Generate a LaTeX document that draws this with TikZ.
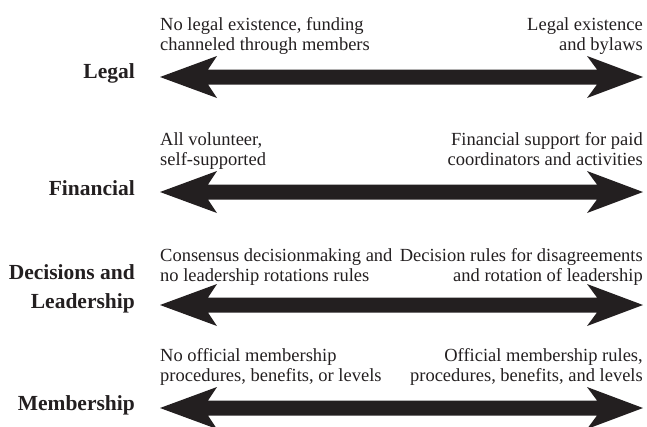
\documentclass[tikz,border=0pt]{standalone}
\usepackage{fontspec}
\setmainfont{Liberation Serif}
\usetikzlibrary{calc}
\definecolor{ink}{HTML}{231F20}
\begin{document}
\begin{tikzpicture}[x=1pt,y=-1pt,
  lab/.style={inner sep=0pt,text depth=0pt,align=right,anchor=south east,
    font=\fontsize{21.5}{29}\selectfont\bfseries,text=ink},
  lefttxt/.style={inner sep=0pt,text depth=0pt,align=left,anchor=south west,
    font=\fontsize{18.5}{20.5}\selectfont,text=ink},
  righttxt/.style={inner sep=0pt,text depth=0pt,align=right,anchor=south east,
    font=\fontsize{18.5}{20.5}\selectfont,text=ink},
  bigarrow/.style={fill=ink}]
\useasboundingbox (0,0) rectangle (647,426);
% double-headed arrows
\foreach \y/\n in {77/a,192/b,305/c,408/d}{
  \coordinate (\n l) at (160,\y);
  \coordinate (\n r) at (643,\y);
  \fill[bigarrow] (\n l) -- ++(57,-21) -- ++(-9,13.5) -- ($(\n r)+(-46,-7.5)$)
    -- ++(-10,-13.5) -- (\n r) -- ++(-56,21) -- ++(10,-13.5)
    -- ($(\n l)+(48,7.5)$) -- ++(9,13.5) -- cycle;
}
% labels
\node[lab] (legal) at (135,79) {Legal};
\node[lab] (fin) at (135,196) {Financial};
\node[lab] (dec) at (135,309) {Decisions and\\Leadership};
\node[lab] (mem) at (135,411) {Membership};
% left descriptions
\node[lefttxt] (l1) at (160,51) {No legal existence, funding\\channeled through members};
\node[lefttxt] (l2) at (160,166) {All volunteer,\\self-supported};
\node[lefttxt] (l3) at (160,282) {Consensus decisionmaking and\\no leadership rotations rules};
\node[lefttxt] (l4) at (160,382) {No official membership\\procedures, benefits, or levels};
% right descriptions
\node[righttxt] (r1) at (643,51) {Legal existence\\and bylaws};
\node[righttxt] (r2) at (643,166) {Financial support for paid\\coordinators and activities};
\node[righttxt] (r3) at (643,282) {Decision rules for disagreements\\and rotation of leadership};
\node[righttxt] (r4) at (643,382) {Official membership rules,\\procedures, benefits, and levels};
\end{tikzpicture}
\end{document}
